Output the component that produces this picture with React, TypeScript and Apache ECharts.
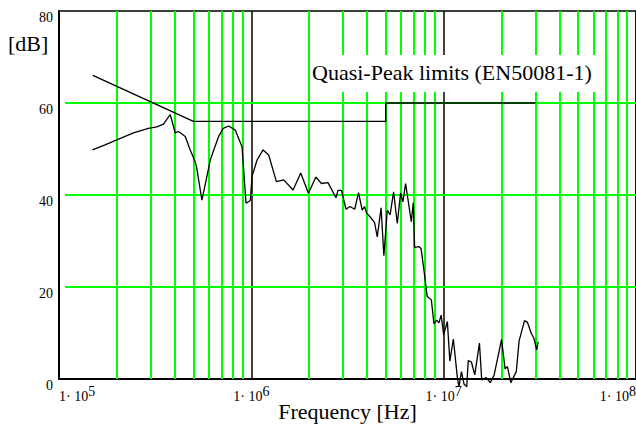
import React, { useEffect, useRef } from "react";
import * as echarts from "echarts";

// Measured spectrum (frequency in Hz, level in dB)
const freqHz = [
  1.491e5, 1.736e5, 1.998e5, 2.438e5, 2.918e5, 3.228e5, 3.494e5, 3.786e5, 4.02e5, 4.182e5,
  4.532e5, 4.812e5, 5.109e5, 5.2e5, 5.536e5, 6.117e5, 6.756e5, 7.15e5, 7.617e5, 8.255e5,
  8.945e5, 9.385e5, 9.881e5, 1.008e6, 1.071e6, 1.151e6, 1.231e6, 1.35e6, 1.473e6, 1.649e6,
  1.806e6, 1.981e6, 2.167e6, 2.315e6, 2.503e6, 2.755e6, 2.822e6, 2.943e6, 3.106e6, 3.258e6,
  3.447e6, 3.608e6, 3.772e6, 3.878e6, 3.972e6, 4.192e6, 4.372e6, 4.516e6, 4.727e6, 4.888e6,
  5.091e6, 5.265e6, 5.491e6, 5.741e6, 5.97e6, 6.138e6, 6.339e6, 6.788e6, 6.952e6, 7.063e6,
  7.436e6, 7.634e6, 7.895e6, 8.205e6, 8.629e6, 8.902e6, 9.194e6, 9.451e6, 9.705e6, 1.0e7,
  1.045e7, 1.077e7, 1.123e7, 1.179e7, 1.201e7, 1.237e7, 1.276e7, 1.318e7, 1.342e7, 1.394e7,
  1.451e7, 1.535e7, 1.577e7, 1.665e7, 1.747e7, 1.828e7, 2.0e7, 2.086e7, 2.147e7, 2.234e7,
  2.386e7, 2.467e7, 2.633e7, 2.729e7, 2.856e7, 2.943e7, 3.05e7, 3.098e7,
];
const levelDb = [
  49.8, 50.9, 52.0, 53.5, 54.5, 54.8, 55.4, 57.5, 53.5, 53.8,
  52.7, 49.8, 47.2, 45.9, 38.9, 47.6, 52.7, 54.5, 55.0, 54.1,
  50.5, 38.2, 38.8, 44.0, 47.6, 49.8, 48.7, 42.9, 43.3, 41.1,
  44.8, 40.4, 43.9, 42.5, 42.7, 39.4, 41.0, 41.0, 36.9, 37.5,
  36.9, 40.5, 36.7, 37.5, 36.1, 35.0, 34.0, 30.9, 37.2, 26.8,
  36.7, 35.7, 40.7, 33.8, 40.4, 38.5, 42.5, 34.2, 38.3, 28.6,
  28.8, 28.3, 23.7, 18.0, 17.2, 12.0, 12.8, 12.2, 13.9, 9.6,
  12.5, 3.9, 8.7, 0.2, -1.7, 1.6, -1.1, -1.7, 4.0, 3.7,
  0.9, 7.8, -0.2, 0.3, -0.8, 0.8, 8.6, 2.2, 2.7, -0.8,
  1.6, 8.3, 12.7, 12.3, 9.9, 8.9, 6.3, 8.1,
];

// Quasi-Peak limits (EN50081-1)
const limitFreqHz = [1.5e5, 5e5, 5e6, 5e6, 3e7];
const limitDb = [66, 56, 56, 60, 60];

// Axes
const xMin = 1e5;
const xMax = 1e8;
const yMin = 0;
const yMax = 80;
const yInterval = 20;
const gridDecades = [1e5, 1e6, 1e7];
const gridMultipliers = [2, 3, 4, 5, 6, 7, 8, 9];
const hGridLevels = [20, 40, 60];
const hGridStartHz = 1.075e5;

const titleText = "Quasi-Peak limits (EN50081-1)";
const yTitle = "[dB]";
const xTitle = "Frequency [Hz]";

const FONT = "Liberation Serif";
const GREEN = "#00ff00";

export default function App() {
  const ref = useRef<HTMLDivElement>(null);

  useEffect(() => {
    if (!ref.current) return;
    const chart = echarts.init(ref.current, undefined, { renderer: "svg" });

    const vLines: any[] = [];
    gridDecades.forEach((d) =>
      gridMultipliers.forEach((m) => vLines.push({ xAxis: d * m }))
    );
    const hLines: any[] = hGridLevels.map((v) => [
      { coord: [hGridStartHz, v] },
      { coord: [xMax, v] },
    ]);

    const option: any = {
      animation: false,
      backgroundColor: "#fff",
      textStyle: { fontFamily: FONT },
      grid: {
        left: 59,
        right: 0,
        top: 11,
        bottom: 49,
        outerBoundsMode: "none",
        show: true,
        borderColor: "#000",
        borderWidth: 1.5,
        backgroundColor: "transparent",
      },
      xAxis: {
        type: "log",
        logBase: 10,
        min: xMin,
        max: xMax,
        axisLine: { show: true, onZero: false, lineStyle: { color: "#000", width: 2 } },
        axisTick: { show: false },
        splitLine: { show: true, lineStyle: { color: "#000", width: 1.5 } },
        minorTick: { show: false },
        axisLabel: {
          margin: 5,
          alignMinLabel: "left",
          alignMaxLabel: "right",
          color: "#000",
          fontFamily: FONT,
          formatter: (v: number) => {
            const e = Math.round(Math.log10(v));
            return `{a|1· 10}{b|${e}}`;
          },
          rich: {
            a: { fontSize: 14, fontFamily: FONT, color: "#000" },
            b: { fontSize: 14, fontFamily: FONT, color: "#000", padding: [0, 0, 10, 0] },
          },
        },
      },
      yAxis: {
        type: "value",
        min: yMin,
        max: yMax,
        interval: yInterval,
        axisLine: { show: true, lineStyle: { color: "#000", width: 2 } },
        axisTick: { show: false },
        splitLine: { show: false },
        axisLabel: {
          margin: 6,
          color: "#000",
          fontSize: 14,
          fontFamily: FONT,
          verticalAlign: "top",
          lineHeight: 13,
        },
      },
      series: [
        {
          type: "line",
          data: [],
          silent: true,
          z: 1,
          markLine: {
            silent: true,
            z: 1,
            symbol: "none",
            label: { show: false },
            lineStyle: { color: GREEN, width: 2, type: "solid", opacity: 1 },
            data: [...vLines, ...hLines],
          },
        },
        {
          type: "line",
          data: limitFreqHz.map((f, i) => [f, limitDb[i]]),
          symbol: "none",
          lineStyle: { color: "#000", width: 1.4 },
          z: 10,
        },
        {
          type: "line",
          data: freqHz.map((f, i) => [f, levelDb[i]]),
          symbol: "none",
          clip: false,
          lineStyle: { color: "#000", width: 1.3 },
          z: 11,
        },
      ],
      graphic: [
        {
          type: "rect",
          shape: { x: 310, y: 55, width: 287, height: 37 },
          style: { fill: "#fff" },
          z: 50,
        },
        {
          type: "text",
          x: 312,
          y: 72,
          style: {
            text: titleText,
            fontFamily: FONT,
            fontSize: 22,
            fill: "#000",
            verticalAlign: "middle",
          },
          z: 51,
        },
        {
          type: "text",
          x: 8,
          y: 43,
          style: {
            text: yTitle,
            fontFamily: FONT,
            fontSize: 22,
            fill: "#000",
            verticalAlign: "middle",
          },
          z: 51,
        },
        {
          type: "text",
          x: 347.5,
          y: 411,
          style: {
            text: xTitle,
            fontFamily: FONT,
            fontSize: 22,
            fill: "#000",
            align: "center",
            verticalAlign: "middle",
          },
          z: 51,
        },
      ],
    };

    chart.setOption(option);
    return () => chart.dispose();
  }, []);

  return (
    <div
      ref={ref}
      style={{ position: "fixed", left: 0, top: 0, width: 636, height: 428, background: "#fff" }}
    />
  );
}
